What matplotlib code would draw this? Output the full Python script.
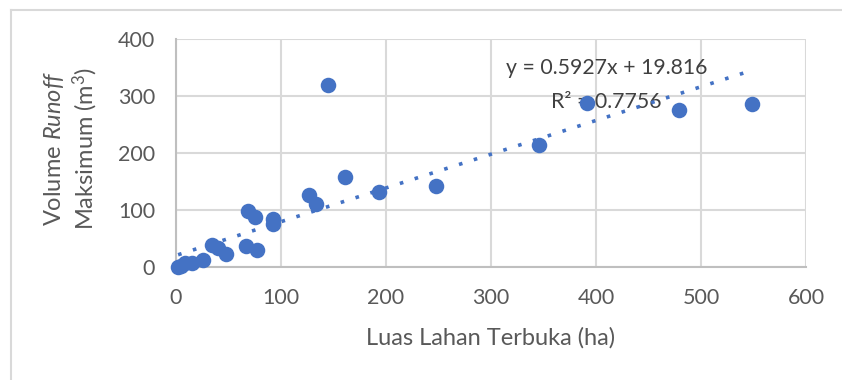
import matplotlib
matplotlib.use("Agg")
import matplotlib.pyplot as plt
from matplotlib.lines import Line2D
import numpy as np

luas = [2, 5, 9, 15, 26, 34, 40, 48, 67, 77, 69, 75, 92, 92, 127, 133, 145, 161, 193, 248, 346, 391, 479, 549]
volume = [0, 2, 6, 7, 11, 38, 32, 22, 36, 29, 98, 87, 83, 75, 126, 110, 320, 157, 131, 142, 214, 287, 275, 285]
slope = 0.5927
intercept = 19.816
r2 = 0.7756
xticks = [0, 100, 200, 300, 400, 500, 600]
yticks = [0, 100, 200, 300, 400]

plt.rcParams['font.family'] = ['Lato', 'DejaVu Sans']
plt.rcParams['mathtext.fontset'] = 'custom'
plt.rcParams['mathtext.rm'] = 'Lato'
plt.rcParams['mathtext.it'] = 'Lato:italic'

W, H = 842, 380
fig = plt.figure(figsize=(W / 100, H / 100), dpi=100)
ax = fig.add_axes([176 / W, 1 - 266.7 / H, (806 - 176) / W, (266.7 - 39) / H])

grid_c = '#d9d9d9'
text_c = '#595959'
blue = '#4472C4'

ax.set_xlim(0, 600)
ax.set_ylim(0, 400)
ax.set_xticks(xticks)
ax.set_yticks(yticks)
ax.grid(True, color=grid_c, lw=1.5)
ax.set_axisbelow(True)
for s in ['top', 'right']:
    ax.spines[s].set_visible(False)
for s in ['left', 'bottom']:
    ax.spines[s].set_color('#bfbfbf')
    ax.spines[s].set_linewidth(1.5)
ax.tick_params(length=0, labelsize=15.5, labelcolor=text_c)
ax.tick_params(axis='x', pad=15)
ax.tick_params(axis='y', pad=15)

ax.scatter(luas, volume, s=125, color=blue, zorder=3, clip_on=False, linewidths=0)

xs = np.array([min(luas), max(luas)])
ax.plot(xs, slope * xs + intercept, color=blue, lw=2.6,
        linestyle=(0, (1, 3.3)), zorder=4)

ax.text(410, 349, f"y = {slope}x + {intercept}", ha='center', va='center',
        fontsize=15.3, color='#404040', zorder=2)
ax.text(410, 289.5, f"R² = {r2}", ha='center', va='center',
        fontsize=15.3, color='#404040', zorder=2)

fig.text(491 / W, 1 - 338 / H, "Luas Lahan Terbuka (ha)", ha='center', va='center',
         fontsize=17, color=text_c)
fig.text(71 / W, 1 - 148 / H, "Volume $\\it{Runoff}$\nMaksimum (m$^3$)", rotation=90,
         ha='center', va='center', multialignment='center', fontsize=17, color=text_c,
         linespacing=1.2)

fig.add_artist(Line2D([11 / W, 1], [1 - 10 / H, 1 - 10 / H], transform=fig.transFigure,
                      color=grid_c, lw=1.5))
fig.add_artist(Line2D([11 / W, 11 / W], [0, 1 - 10 / H], transform=fig.transFigure,
                      color=grid_c, lw=1.5))

fig.savefig("out.png", dpi=100)
